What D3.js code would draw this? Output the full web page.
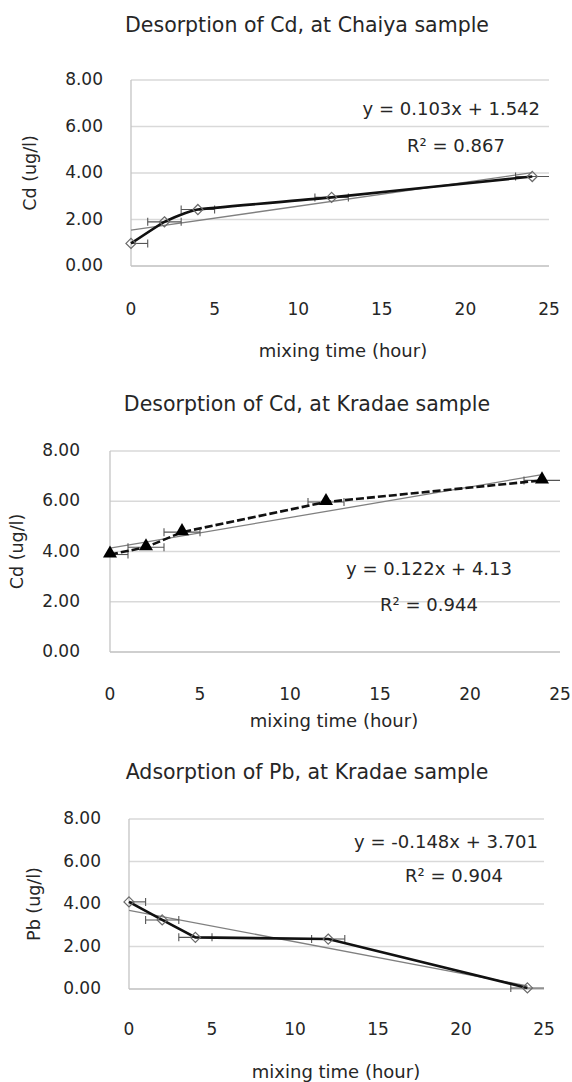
<!DOCTYPE html>
<html><head><meta charset="utf-8">
<script src="https://cdn.jsdelivr.net/npm/d3@7"></script>
<style>body{margin:0;background:#fff}svg{display:block}text{font-family:"DejaVu Sans",sans-serif;fill:#262626}</style>
</head><body><svg id="c" width="572" height="1082"></svg>
<script>
// ---- data ----
const hours = [0, 2, 4, 12, 24];
const cdChaiya = [0.97, 1.9, 2.43, 2.95, 3.85];
const cdKradae = [3.88, 4.17, 4.77, 5.97, 6.83];
const pbKradae = [4.1, 3.25, 2.43, 2.35, 0.05];
const hourErr = [1, 1, 1, 1, 1];
const xTicks = [0, 5, 10, 15, 20, 25];
const yTicks = [0, 2, 4, 6, 8];
const titles = ["Desorption of Cd, at Chaiya sample", "Desorption of Cd, at Kradae sample", "Adsorption of Pb, at Kradae sample"];
const yTitles = ["Cd (ug/l)", "Cd (ug/l)", "Pb (ug/l)"];
const xTitle = "mixing time (hour)";
const trendSlope = [0.103, 0.122, -0.148];
const trendIntercept = [1.542, 4.13, 3.701];
const eqText = ["y = 0.103x + 1.542", "y = 0.122x + 4.13", "y = -0.148x + 3.701"];
const r2Text = ["R\u00b2 = 0.867", "R\u00b2 = 0.944", "R\u00b2 = 0.904"];

const svg = d3.select("#c");

const layouts = [
  {x0:131, x1:549, yTop:80, yBot:266, tickLabX:103, xLabY:310, titleY:26, titleX:307, yTitleX:31, xTitleY:352, xTitleX:343,
   eq:{x:540, y:110, anchor:"end"}, r2:{x:456, y:147, anchor:"middle"}, marker:"diamond", dash:null, curve:d3.curveCardinal.tension(0.65)},
  {x0:110, x1:560, yTop:451, yBot:652, tickLabX:80, xLabY:695, titleY:405, titleX:307, yTitleX:18, xTitleY:722, xTitleX:334,
   eq:{x:429, y:570, anchor:"middle"}, r2:{x:429, y:606, anchor:"middle"}, marker:"triangle", dash:"8,3", curve:d3.curveLinear},
  {x0:129, x1:544, yTop:819, yBot:989, tickLabX:101, xLabY:1030, titleY:773, titleX:307, yTitleX:35, xTitleY:1073, xTitleX:336,
   eq:{x:538, y:843, anchor:"end"}, r2:{x:454, y:877, anchor:"middle"}, marker:"diamond", dash:null, curve:d3.curveLinear}
];
const series = [cdChaiya, cdKradae, pbKradae];

layouts.forEach((L, i) => {
  const g = svg.append("g");
  const x = d3.scaleLinear().domain([0, 25]).range([L.x0, L.x1]);
  const y = d3.scaleLinear().domain([0, 8]).range([L.yBot, L.yTop]);
  const data = hours.map((h, k) => ({h, v: series[i][k], e: hourErr[k]}));

  g.append("text").attr("x", L.titleX).attr("y", L.titleY).attr("text-anchor", "middle")
    .attr("dominant-baseline", "middle").style("font-size", "20.5px").text(titles[i]);

  // gridlines
  g.selectAll(".grid").data(yTicks).join("line")
    .attr("x1", L.x0).attr("x2", L.x1).attr("y1", d => y(d)).attr("y2", d => y(d))
    .attr("stroke", d => d === 0 ? "#bfbfbf" : "#d9d9d9").attr("stroke-width", 1.5);
  g.append("line").attr("x1", L.x0).attr("x2", L.x0).attr("y1", L.yTop).attr("y2", L.yBot)
    .attr("stroke", "#c4c4c4").attr("stroke-width", 1.3);

  // y tick labels
  g.selectAll(".yl").data(yTicks).join("text")
    .attr("x", L.tickLabX).attr("y", d => y(d)).attr("text-anchor", "end").attr("dominant-baseline", "middle")
    .style("font-size", "17px").text(d => d.toFixed(2));
  // x tick labels
  g.selectAll(".xl").data(xTicks).join("text")
    .attr("x", d => x(d)).attr("y", L.xLabY).attr("text-anchor", "middle").attr("dominant-baseline", "middle")
    .style("font-size", "17px").text(d => d);

  // axis titles
  g.append("text").attr("transform", `translate(${L.yTitleX},${(L.yTop + L.yBot) / 2}) rotate(-90)`)
    .attr("text-anchor", "middle").attr("dominant-baseline", "middle").style("font-size", "17.5px").text(yTitles[i]);
  g.append("text").attr("x", L.xTitleX).attr("y", L.xTitleY).attr("text-anchor", "middle")
    .attr("dominant-baseline", "middle").style("font-size", "18px").text(xTitle);

  // trendline
  const tr = [0, 24].map(h => ({h, v: trendSlope[i] * h + trendIntercept[i]}));
  g.append("path").datum(tr).attr("fill", "none").attr("stroke", "#808080").attr("stroke-width", 1.3)
    .attr("d", d3.line().x(d => x(d.h)).y(d => y(d.v)));

  // error bars
  const eb = g.selectAll(".eb").data(data).join("g");
  eb.append("line").attr("x1", d => x(Math.max(0, d.h - d.e))).attr("x2", d => x(Math.min(25, d.h + d.e)))
    .attr("y1", d => y(d.v)).attr("y2", d => y(d.v)).attr("stroke", "#555").attr("stroke-width", 1.1);
  eb.filter(d => d.h - d.e >= 0).append("line").attr("x1", d => x(d.h - d.e)).attr("x2", d => x(d.h - d.e))
    .attr("y1", d => y(d.v) - 4).attr("y2", d => y(d.v) + 4).attr("stroke", "#555").attr("stroke-width", 1.1);
  eb.filter(d => d.h + d.e < 25).append("line").attr("x1", d => x(d.h + d.e)).attr("x2", d => x(d.h + d.e))
    .attr("y1", d => y(d.v) - 4).attr("y2", d => y(d.v) + 4).attr("stroke", "#555").attr("stroke-width", 1.1);

  // data line
  g.append("path").datum(data).attr("fill", "none").attr("stroke", "#111").attr("stroke-width", 2.6)
    .attr("stroke-dasharray", L.dash).attr("d", d3.line().curve(L.curve).x(d => x(d.h)).y(d => y(d.v)));

  // markers
  if (L.marker === "diamond") {
    g.selectAll(".mk").data(data).join("path")
      .attr("transform", d => `translate(${x(d.h)},${y(d.v)})`)
      .attr("d", d3.symbol(d3.symbolDiamond2, 65)).attr("fill", "none").attr("stroke", "#6a6a6a").attr("stroke-width", 1.2);
  } else {
    g.selectAll(".mk").data(data).join("path")
      .attr("transform", d => `translate(${x(d.h)},${y(d.v) - 1})`)
      .attr("d", d3.symbol(d3.symbolTriangle, 85)).attr("fill", "#000");
  }

  // equation labels
  g.append("text").attr("x", L.eq.x).attr("y", L.eq.y).attr("text-anchor", L.eq.anchor)
    .attr("dominant-baseline", "middle").style("font-size", "18px").text(eqText[i]);
  g.append("text").attr("x", L.r2.x).attr("y", L.r2.y).attr("text-anchor", L.r2.anchor)
    .attr("dominant-baseline", "middle").style("font-size", "18px").text(r2Text[i]);
});
</script></body></html>
